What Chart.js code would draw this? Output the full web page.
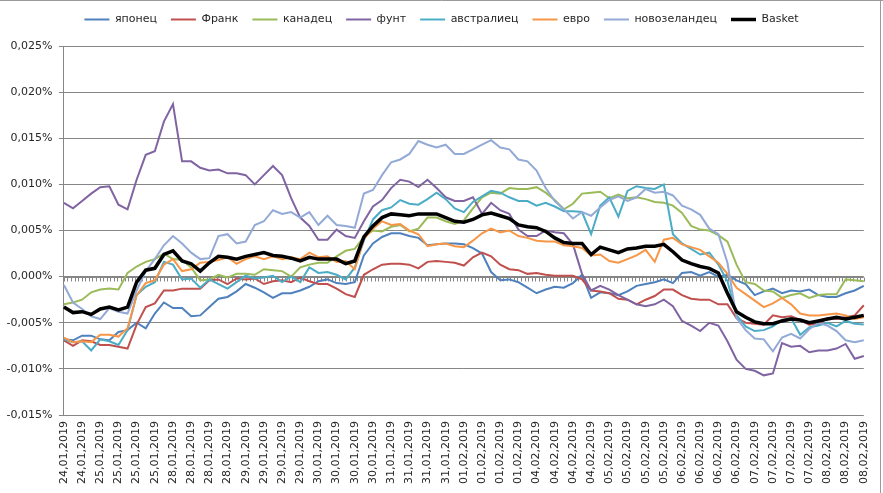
<!DOCTYPE html>
<html>
<head>
<meta charset="utf-8">
<script src="https://cdn.jsdelivr.net/npm/chart.js@4.4.1/dist/chart.umd.min.js"></script>
<style>
  html, body { margin: 0; padding: 0; background: #fff; }
</style>
</head>
<body>
<canvas id="chart" width="883" height="493"></canvas>
<script>
// tick labels, one per 2 points (values in 0.001 % units)
const tickLabels = [
  "24,01,2019", "24,01,2019",
  "25,01,2019", "25,01,2019", "25,01,2019", "25,01,2019",
  "28,01,2019", "28,01,2019", "28,01,2019", "28,01,2019",
  "29,01,2019", "29,01,2019", "29,01,2019", "29,01,2019",
  "30,01,2019", "30,01,2019", "30,01,2019", "30,01,2019",
  "31,01,2019", "31,01,2019", "31,01,2019", "31,01,2019",
  "01,02,2019", "01,02,2019", "01,02,2019", "01,02,2019",
  "04,02,2019", "04,02,2019", "04,02,2019", "04,02,2019",
  "05,02,2019", "05,02,2019", "05,02,2019", "05,02,2019",
  "06,02,2019", "06,02,2019", "06,02,2019", "06,02,2019",
  "07,02,2019", "07,02,2019", "07,02,2019", "07,02,2019",
  "08,02,2019", "08,02,2019", "08,02,2019"
];

const seriesNames = ["японец", "Франк", "канадец", "фунт", "австралиец", "евро", "новозеландец", "Basket"];

const yaponets = [
  -6.8, -6.9, -6.4, -6.4, -6.8, -6.9, -6.0, -5.8, -5.0, -5.6,
  -4.0, -2.8, -3.4, -3.4, -4.3, -4.2, -3.3, -2.4, -2.2, -1.6,
  -0.8, -1.2, -1.7, -2.3, -1.8, -1.8, -1.5, -1.1, -0.5, -0.3,
  -0.7, -0.8, -0.6, 2.3, 3.6, 4.3, 4.7, 4.7, 4.4, 4.2,
  3.4, 3.5, 3.6, 3.6, 3.5, 3.1, 2.5, 0.5, -0.4, -0.3,
  -0.6, -1.2, -1.8, -1.4, -1.1, -1.2, -0.7, 0.2, -2.3, -1.7,
  -1.8, -2.0, -1.6, -1.0, -0.8, -0.6, -0.3, -0.7, 0.4, 0.5,
  0.1, 0.5, 0.0, 0.2, -0.4, -0.8, -2.0, -1.6, -1.3, -1.8,
  -1.5, -1.6, -1.4, -2.0, -2.2, -2.2, -1.8, -1.5, -1.0
];
const frank = [
  -6.9, -7.5, -6.9, -7.0, -7.4, -7.4, -7.6, -7.8, -5.2, -3.3,
  -2.9, -1.5, -1.5, -1.3, -1.3, -1.3, -0.4, -0.3, -0.8, -0.2,
  -0.3, -0.2, -0.8, -0.5, -0.4, -0.6, -0.1, -0.5, -0.8, -0.8,
  -1.3, -1.9, -2.2, 0.2, 0.8, 1.3, 1.4, 1.4, 1.3, 0.9,
  1.6, 1.7, 1.6, 1.5, 1.2, 2.1, 2.6, 2.2, 1.3, 0.8,
  0.7, 0.3, 0.4, 0.2, 0.1, 0.1, 0.1, -0.3, -1.5, -1.6,
  -1.8, -2.4, -2.5, -3.0, -2.5, -2.1, -1.4, -1.4, -2.0, -2.4,
  -2.5, -2.5, -3.0, -3.0, -4.5, -5.0, -5.1, -5.2, -4.2, -4.4,
  -4.3, -4.7, -5.2, -5.1, -4.5, -4.6, -4.4, -4.2, -3.1
];
const kanadets = [
  -3.0, -2.8, -2.5, -1.7, -1.4, -1.3, -1.4, 0.4, 1.1, 1.6,
  1.9, 2.5, 1.9, 1.8, 1.0, -0.4, -0.3, 0.2, -0.1, 0.3,
  0.3, 0.2, 0.8, 0.7, 0.6, 0.0, 1.0, 1.3, 1.5, 1.5,
  2.2, 2.8, 3.0, 4.3, 5.0, 4.9, 5.4, 5.6, 4.9, 5.2,
  6.4, 6.4, 6.0, 5.7, 6.1, 7.4, 8.6, 9.1, 9.0, 9.6,
  9.5, 9.5, 9.7, 9.1, 8.3, 7.3, 7.9, 9.0, 9.1, 9.2,
  8.5, 8.9, 8.5, 8.6, 8.4, 8.1, 8.0, 7.7, 6.9, 5.5,
  5.1, 5.0, 4.5, 3.8, 1.3, -0.6, -0.8, -1.5, -1.6, -2.3,
  -2.0, -1.8, -2.3, -2.0, -1.9, -1.9, -0.3, -0.4, -0.5
];
const funt = [
  8.0, 7.4, 8.2, 9.0, 9.7, 9.8, 7.8, 7.3, 10.5, 13.2,
  13.6, 16.8, 18.7, 12.5, 12.5, 11.8, 11.5, 11.6, 11.2, 11.2,
  11.0, 10.0, 11.0, 12.0, 11.0, 8.5, 6.4, 5.5, 4.0, 4.0,
  5.1, 4.4, 4.2, 6.0, 7.6, 8.3, 9.6, 10.5, 10.3, 9.7,
  10.5, 9.6, 8.6, 8.2, 8.2, 8.6, 6.8, 8.0, 7.2, 6.8,
  5.1, 4.4, 4.4, 5.0, 4.8, 4.7, 3.5, 0.3, -1.5, -1.0,
  -1.4, -2.0, -2.5, -3.0, -3.2, -3.0, -2.5, -3.2, -4.8, -5.3,
  -5.9, -5.0, -5.3, -7.0, -9.0, -10.0, -10.2, -10.7, -10.5, -7.2,
  -7.6, -7.5, -8.2, -8.0, -8.0, -7.8, -7.3, -8.9, -8.6
];
const avstraliets = [
  -6.8, -7.1, -7.0, -8.0, -6.8, -7.0, -7.4, -5.8, -2.0, -1.1,
  -0.6, 1.6, 1.3, -0.3, -0.2, -1.2, -0.3, -0.8, -1.3, -0.6,
  0.1, -0.2, -0.1, 0.1, -0.6, 0.0, -0.6, 1.0, 0.4, 0.5,
  0.2, -0.3, 1.0, 3.9, 6.2, 7.2, 7.5, 8.3, 7.9, 7.8,
  8.4, 9.1, 8.4, 7.4, 7.0, 8.1, 8.7, 9.3, 9.1, 8.6,
  8.2, 8.2, 7.7, 8.0, 7.6, 7.1, 7.1, 7.0, 4.6, 7.7,
  8.6, 6.5, 9.3, 9.8, 9.6, 9.5, 10.0, 4.6, 3.6, 3.0,
  2.4, 2.6, 1.3, -0.5, -4.2, -5.4, -5.9, -5.8, -5.4, -4.7,
  -4.5, -6.3, -5.5, -5.3, -5.0, -5.4, -4.8, -5.1, -5.2
];
const evro = [
  -6.6, -7.1, -7.0, -7.1, -6.3, -6.3, -6.5, -5.6, -2.0, -0.7,
  -0.4, 1.3, 1.9, 0.6, 0.8, 1.5, 1.6, 1.8, 2.1, 1.4,
  1.9, 2.2, 1.9, 2.2, 1.9, 2.1, 1.9, 2.6, 2.1, 2.2,
  1.6, 1.7, 0.8, 4.1, 5.2, 6.0, 5.6, 5.7, 5.0, 4.6,
  3.3, 3.5, 3.6, 3.3, 3.2, 3.9, 4.7, 5.2, 4.8, 5.0,
  4.4, 4.2, 3.9, 3.8, 3.8, 3.4, 3.3, 3.1, 2.3, 2.4,
  1.7, 1.5, 1.9, 2.3, 2.9, 1.6, 4.0, 4.2, 3.5, 3.2,
  2.9, 2.2, 1.5, 0.3, -1.2, -1.9, -2.6, -3.3, -2.9, -2.3,
  -3.0, -4.0, -4.2, -4.2, -4.1, -4.0, -4.2, -4.6, -4.4
];
const novozelandets = [
  -0.9, -2.8, -3.5, -4.3, -4.6, -3.4, -3.8, -4.0, -1.5, 0.6,
  1.9, 3.4, 4.4, 3.6, 2.6, 1.9, 2.0, 4.4, 4.6, 3.6,
  3.8, 5.6, 6.0, 7.2, 6.8, 7.0, 6.4, 7.0, 5.6, 6.6,
  5.6, 5.5, 5.3, 9.0, 9.4, 11.0, 12.4, 12.7, 13.3, 14.7,
  14.3, 14.0, 14.3, 13.3, 13.3, 13.8, 14.3, 14.8, 14.0, 13.8,
  12.7, 12.5, 11.5, 9.6, 8.2, 7.3, 6.3, 7.0, 6.6, 7.5,
  8.3, 8.7, 8.2, 8.6, 9.5, 9.1, 9.2, 8.8, 7.7, 7.3,
  6.7, 5.2, 4.6, 1.5, -4.5, -5.8, -6.7, -6.8, -8.1, -6.6,
  -6.2, -6.7, -5.7, -5.0, -5.3, -5.9, -6.9, -7.1, -6.9
];
const basket = [
  -3.3, -3.9, -3.8, -4.1, -3.5, -3.3, -3.6, -3.3, -0.6, 0.7,
  0.9, 2.4, 2.8, 1.7, 1.4, 0.6, 1.5, 2.2, 2.1, 1.9,
  2.2, 2.4, 2.6, 2.3, 2.2, 2.0, 1.7, 2.1, 1.9, 1.9,
  1.9, 1.4, 1.7, 4.3, 5.5, 6.4, 6.8, 6.7, 6.6, 6.8,
  6.8, 6.8, 6.4, 6.0, 5.9, 6.2, 6.7, 6.9, 6.6, 6.3,
  5.6, 5.4, 5.3, 4.9, 4.2, 3.7, 3.6, 3.6, 2.4, 3.2,
  2.9, 2.6, 3.0, 3.1, 3.3, 3.3, 3.5, 2.7, 1.8, 1.4,
  1.1, 0.9, 0.4, -1.8, -3.8, -4.4, -4.9, -5.1, -5.1, -4.8,
  -4.6, -4.7, -5.0, -4.8, -4.6, -4.4, -4.6, -4.4, -4.2
];

const seriesData = [yaponets, frank, kanadets, funt, avstraliets, evro, novozelandets, basket];
const colors = ["#4F81BD", "#C0504D", "#9BBB59", "#8064A2", "#4BACC6", "#F79646", "#93AAD6", "#000000"];

// two points per tick label, last label has one
const categories = tickLabels.flatMap((d, k) => k < tickLabels.length - 1 ? [d, d] : [d]);

const labelFont = { family: "'DejaVu Sans', sans-serif", size: 11 };
Chart.defaults.font.family = labelFont.family;
Chart.defaults.font.size = 11;
Chart.defaults.color = "#262626";

// excel style zero axis with small tick marks and the outer frame
const zeroAxis = {
  id: "zeroAxis",
  beforeInit(chart) {
    // extra room under the legend
    const fit = chart.legend.fit;
    chart.legend.fit = function () {
      fit.call(this);
      this.height += 11;
    };
  },
  afterLayout(chart) {
    // center the legend on the whole canvas
    chart.legend.left = 0;
    chart.legend.right = chart.width;
  },
  beforeDatasetsDraw(chart) {
    const { ctx, chartArea: a, scales } = chart;
    const y0 = Math.round(scales.y.getPixelForValue(0)) + 0.5;
    ctx.save();
    ctx.strokeStyle = "#868686";
    ctx.lineWidth = 1;
    ctx.beginPath();
    ctx.moveTo(a.left, y0);
    ctx.lineTo(a.right, y0);
    const step = (a.right - a.left) / 224;
    for (let k = 0; k <= 224; k++) {
      const x = Math.round(a.left + k * step) + 0.5;
      ctx.moveTo(x, y0);
      ctx.lineTo(x, y0 + 4);
    }
    ctx.stroke();
    ctx.strokeStyle = "#9a9a9a";
    ctx.beginPath();
    ctx.moveTo(0, 0.5);
    ctx.lineTo(chart.width, 0.5);
    ctx.moveTo(chart.width - 2.5, 0);
    ctx.lineTo(chart.width - 2.5, chart.height);
    ctx.stroke();
    ctx.restore();
  }
};

const datasets = seriesNames.map((name, i) => ({
  label: name,
  data: seriesData[i],
  borderColor: colors[i],
  backgroundColor: colors[i],
  borderWidth: name === "Basket" ? 3.5 : 2,
  pointRadius: 0,
  pointStyle: "line",
  tension: 0,
  order: seriesNames.length - i
}));

new Chart(document.getElementById("chart"), {
  type: "line",
  data: { labels: categories, datasets: datasets },
  options: {
    responsive: false,
    animation: false,
    devicePixelRatio: 1,
    layout: { padding: { left: 0, right: 18, top: 0, bottom: 3 } },
    plugins: {
      tooltip: { enabled: false },
      legend: {
        position: "top",
        labels: {
          font: labelFont,
          usePointStyle: true,
          pointStyleWidth: 25,
          padding: 14,
          sort: (a, b) => a.datasetIndex - b.datasetIndex
        }
      }
    },
    scales: {
      x: {
        type: "category",
        offset: false,
        grid: { display: false, drawTicks: false },
        border: { display: false },
        ticks: {
          font: labelFont,
          autoSkip: false,
          minRotation: 90,
          maxRotation: 90,
          padding: 6,
          callback: (v, i) => (i % 2 === 0 ? categories[i] : "")
        }
      },
      y: {
        min: -15,
        max: 25,
        grid: { color: "#868686", tickLength: 5 },
        border: { color: "#868686" },
        ticks: {
          font: labelFont,
          stepSize: 5,
          padding: 6.5,
          callback: v => (v / 1000).toFixed(3).replace(".", ",") + "%"
        }
      }
    }
  },
  plugins: [zeroAxis]
});
</script>
</body>
</html>
